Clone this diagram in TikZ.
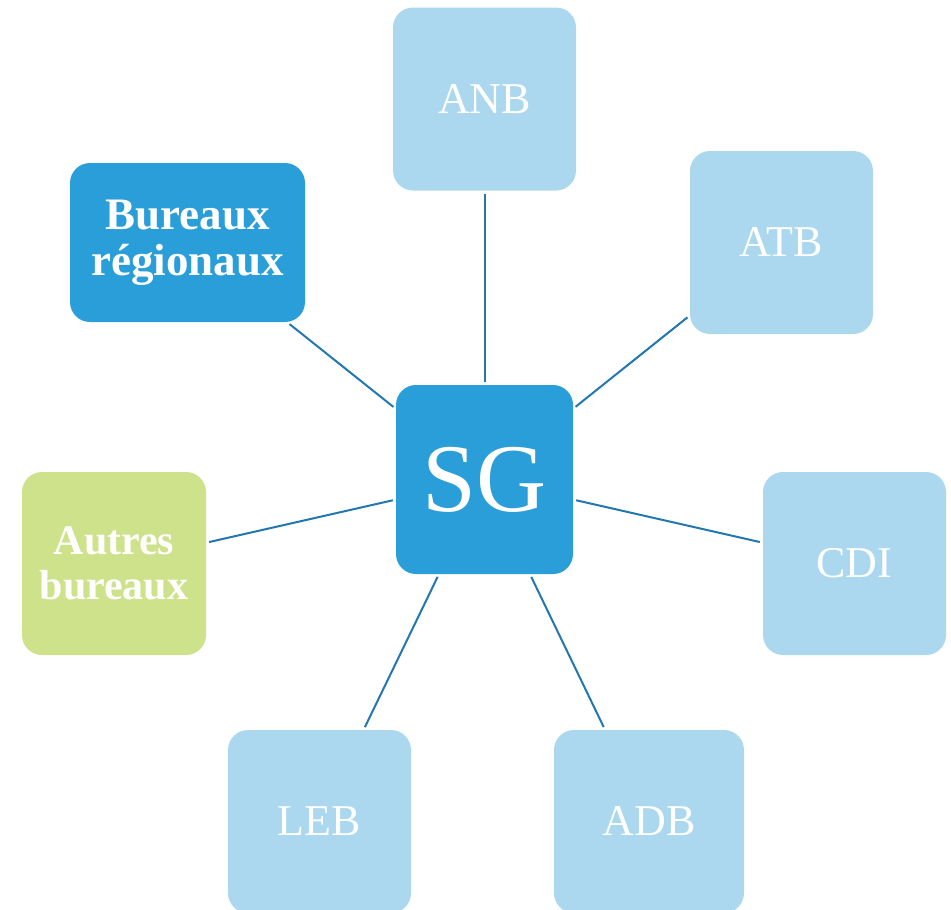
\documentclass[tikz,border=0pt]{standalone}
\usepackage{fontspec}
\setmainfont{Liberation Serif}
\definecolor{darkbox}{HTML}{2A9ED8}
\definecolor{lightbox}{HTML}{ABD8EE}
\definecolor{greenbox}{HTML}{CDE28A}
\definecolor{linkcol}{HTML}{2277B0}
\tikzset{
  box/.style={rectangle, rounded corners=20pt, inner sep=0pt, text=white, align=center, minimum width=183pt, minimum height=183pt},
  lightnode/.style={box, fill=lightbox, font=\fontsize{44}{46}\selectfont},
  link/.style={draw=linkcol, line width=2pt, shorten <=3pt, shorten >=3pt},
}
\begin{document}
\begin{tikzpicture}[x=1pt,y=-1pt]
\clip (0,0) rectangle (951,910);
\useasboundingbox (0,0) rectangle (951,910);
\node[box, fill=darkbox, minimum width=177pt, minimum height=189pt, font=\fontsize{97}{97}\selectfont] (sg) at (484.5,479.5) {SG};
\node[lightnode] (anb) at (484.5,99) {ANB};
\node[lightnode] (atb) at (781.5,242.5) {ATB};
\node[lightnode] (cdi) at (854.5,563.5) {CDI};
\node[lightnode, minimum width=190pt] (adb) at (649,821.5) {ADB};
\node[lightnode] (leb) at (319.5,821.5) {LEB};
\node[box, fill=greenbox, minimum width=184pt, font=\bfseries\fontsize{42}{45}\selectfont] (aut) at (114,563.5) {Autres\\bureaux};
\node[box, fill=darkbox, minimum width=235pt, minimum height=159pt, font=\bfseries\fontsize{45}{46}\selectfont] (bur) at (187.5,242.5) {Bureaux\\régionaux};
\foreach \n in {anb,atb,cdi,adb,leb,aut,bur}{
  \draw[link] (sg) -- (\n);
}
\end{tikzpicture}
\end{document}
